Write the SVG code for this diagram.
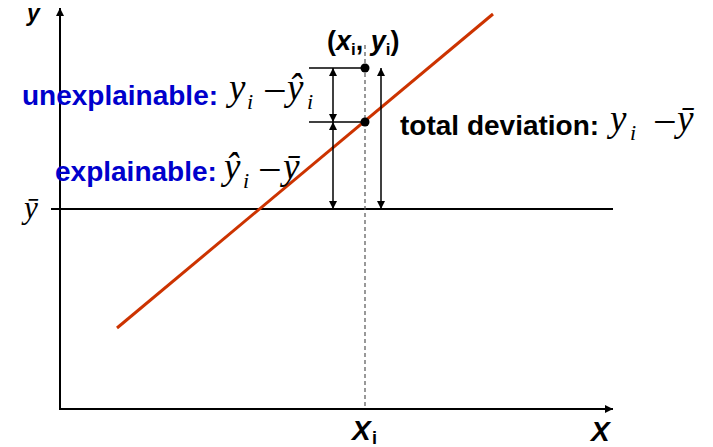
<svg xmlns="http://www.w3.org/2000/svg" width="713" height="447" viewBox="0 0 713 447">
<style>
.ax{stroke:#000;stroke-width:2;fill:none}
.ar{stroke:#000;stroke-width:1.5;fill:none}
.lbl{font-family:"Liberation Sans",Arial,sans-serif;font-weight:bold}
.blue{fill:#0000cc}
.m{font-family:"Liberation Serif","Times New Roman",serif;font-style:italic;font-size:37px;fill:#000}
.s{font-size:22px}
.n{font-family:"Liberation Serif","Times New Roman",serif;font-style:normal;font-size:42px}
</style>
<defs>
<marker id="ah" viewBox="0 0 10 10" refX="10" refY="5" markerUnits="userSpaceOnUse" markerWidth="9" markerHeight="8" orient="auto-start-reverse">
<path d="M0,0 L10,5 L0,10 z" fill="#000"/>
</marker>
</defs>
<rect width="713" height="447" fill="#fff"/>
<g id="axes">
<line class="ax" x1="60" y1="410" x2="60" y2="8" marker-end="url(#ah)"/>
<line class="ax" x1="59" y1="409" x2="613" y2="409" marker-end="url(#ah)"/>
<line class="ax" x1="51" y1="209" x2="613" y2="209"/>
</g>
<g id="regression-line">
<line x1="117" y1="328" x2="493" y2="14" stroke="#cc3300" stroke-width="3"/>
</g>
<g id="connectors">
<line x1="365" y1="45" x2="365" y2="409" stroke="#555" stroke-width="1.2" stroke-dasharray="4,3"/>
<line class="ar" x1="309" y1="68" x2="365" y2="68"/>
<line class="ar" x1="309" y1="122" x2="365" y2="122"/>
<line class="ar" x1="333" y1="68" x2="333" y2="122" marker-start="url(#ah)" marker-end="url(#ah)"/>
<line class="ar" x1="333" y1="122" x2="333" y2="209" marker-start="url(#ah)" marker-end="url(#ah)"/>
<line class="ar" x1="381" y1="68" x2="381" y2="209" marker-start="url(#ah)" marker-end="url(#ah)"/>
</g>
<g id="point-observed"><circle cx="365" cy="68" r="4.5" fill="#000"/></g>
<g id="point-fitted"><circle cx="365" cy="122" r="4.5" fill="#000"/></g>
<g id="label-y-axis"><text class="lbl" x="27" y="21" font-size="23" font-style="italic">y</text></g>
<g id="label-x-axis"><text class="lbl" x="591" y="441" font-size="28" font-style="italic">X</text></g>
<g id="label-xi"><text class="lbl" x="352" y="440" font-size="28"><tspan font-style="italic">X</tspan><tspan font-size="18" x="372" y="444">i</tspan></text></g>
<g id="label-point"><text class="lbl" x="327" y="50" font-size="27">(<tspan font-style="italic">x</tspan><tspan font-size="17" y="55">i</tspan><tspan y="50">, </tspan><tspan font-style="italic">y</tspan><tspan font-size="17" y="55">i</tspan><tspan y="50">)</tspan></text></g>
<g id="label-ybar"><text class="m" x="24" y="218" style="font-size:31px">ȳ</text></g>
<g id="label-unexplainable">
<text class="lbl blue" x="22" y="105" font-size="28">unexplainable:</text>
<text class="m" x="229" y="100">y<tspan class="s" x="247" y="109">i</tspan><tspan class="n" x="263" y="105">−</tspan><tspan x="287" y="100">ŷ</tspan><tspan class="s" x="307" y="109">i</tspan></text>
</g>
<g id="label-explainable">
<text class="lbl blue" x="55" y="181" font-size="28">explainable:</text>
<text class="m" x="224" y="179">ŷ<tspan class="s" x="243" y="188">i</tspan><tspan class="n" x="258" y="184">−</tspan><tspan x="283" y="179">ȳ</tspan></text>
</g>
<g id="label-total">
<text class="lbl" x="400" y="135" font-size="28" fill="#000">total deviation:</text>
<text class="m" x="610" y="131">y<tspan class="s" x="630" y="140">i</tspan><tspan class="n" x="653" y="136">−</tspan><tspan x="677" y="131">ȳ</tspan></text>
</g>
</svg>
